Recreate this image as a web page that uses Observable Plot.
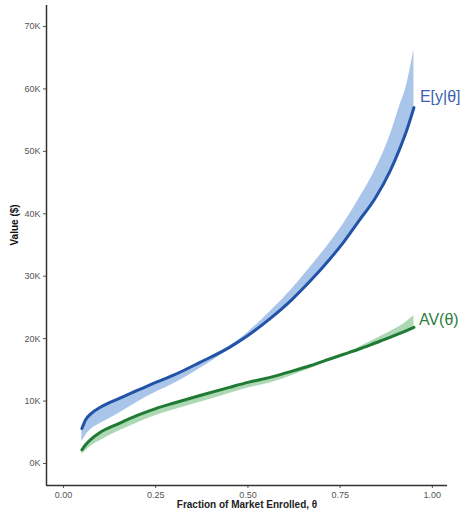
<!DOCTYPE html>
<html><head><meta charset="utf-8">
<script src="https://cdn.jsdelivr.net/npm/d3@7"></script>
<script src="https://cdn.jsdelivr.net/npm/@observablehq/plot@0.6"></script>
<style>body{margin:0;background:#fff;font-family:"Liberation Sans",Arial,sans-serif}</style>
</head><body><div id="chart"></div>
<script>
// Fraction of market enrolled
const theta  = [0.05, 0.06, 0.075, 0.10, 0.15, 0.20, 0.25, 0.30, 0.37, 0.45, 0.50, 0.56, 0.62, 0.67, 0.72, 0.76, 0.80, 0.845, 0.885, 0.91, 0.93, 0.95];
// E[y|theta] (thousands $)
const eyLine = [5.6, 7.0, 8.0, 9.0, 10.4, 11.7, 13.0, 14.2, 16.2, 18.6, 20.5, 23.2, 26.3, 29.3, 32.6, 35.5, 38.8, 42.5, 46.8, 50.2, 53.3, 57.0];
const eyLow  = [3.5, 4.5, 5.5, 6.4, 8.0, 9.8, 11.4, 12.8, 15.2, 18.3, 20.5, 23.2, 26.3, 29.3, 32.6, 35.5, 38.8, 42.5, 46.8, 50.2, 53.3, 57.0];
const eyHigh = [5.6, 7.0, 8.0, 9.0, 10.4, 11.7, 13.0, 14.2, 16.2, 18.8, 21.0, 24.3, 28.0, 31.5, 35.2, 38.5, 42.3, 47.0, 52.5, 57.0, 60.5, 66.3];
// AV(theta) (thousands $)
const avLine = [2.2, 3.0, 3.9, 5.0, 6.4, 7.7, 8.8, 9.7, 10.9, 12.2, 13.0, 13.8, 14.8, 15.7, 16.7, 17.5, 18.3, 19.3, 20.2, 20.8, 21.3, 21.8];
const avLow  = [1.5, 2.0, 2.8, 3.7, 5.2, 6.5, 7.7, 8.6, 9.8, 11.2, 12.1, 12.9, 14.1, 15.2, 16.4, 17.3, 18.3, 19.3, 20.2, 20.8, 21.3, 21.8];
const avHigh = [2.2, 3.0, 3.9, 5.0, 6.4, 7.7, 8.8, 9.7, 10.9, 12.2, 13.0, 13.8, 14.8, 15.7, 16.7, 17.5, 18.6, 19.9, 21.1, 21.9, 22.7, 23.7];

const xTicks = [0, 0.25, 0.5, 0.75, 1];
const yTicks = [0, 10000, 20000, 30000, 40000, 50000, 60000, 70000];
const xDomain = [-0.046, 1.041];
const yDomain = [-3520, 73360];
const eyLabel = "E[y|θ]";
const avLabel = "AV(θ)";
const xTitle = "Fraction of Market Enrolled, θ";
const yTitle = "Value ($)";

const ey = theta.map((t, i) => ({theta: t, line: eyLine[i] * 1000, low: eyLow[i] * 1000, high: eyHigh[i] * 1000}));
const av = theta.map((t, i) => ({theta: t, line: avLine[i] * 1000, low: avLow[i] * 1000, high: avHigh[i] * 1000}));

const chart = Plot.plot({
  width: 467, height: 518,
  marginLeft: 46, marginRight: 20, marginTop: 5, marginBottom: 33,
  style: {fontFamily: "'Liberation Sans', Arial, sans-serif", fontSize: "9px", color: "#555", background: "#fff"},
  x: {domain: xDomain, ticks: xTicks, tickFormat: d3.format(".2f"), tickSize: 3, tickPadding: 3, label: null},
  y: {domain: yDomain, ticks: yTicks, tickFormat: d => d / 1000 + "K", tickSize: 3, tickPadding: 3, label: null},
  marks: [
    Plot.areaY(ey, {x: "theta", y1: "low", y2: "high", fill: "#a9c5ea", curve: "monotone-x"}),
    Plot.areaY(av, {x: "theta", y1: "low", y2: "high", fill: "#acd8b4", curve: "monotone-x"}),
    Plot.lineY(ey, {x: "theta", y: "line", stroke: "#2253a7", strokeWidth: 3, curve: "monotone-x"}),
    Plot.lineY(av, {x: "theta", y: "line", stroke: "#1f7a34", strokeWidth: 3, curve: "monotone-x"}),
    Plot.ruleX([xDomain[0]], {stroke: "#333", strokeWidth: 1.5}),
    Plot.ruleY([yDomain[0]], {stroke: "#333", strokeWidth: 1.5}),
    Plot.text([ey[ey.length - 1]], {x: "theta", y: "line", text: () => eyLabel, textAnchor: "start", dx: 6, dy: -11, fill: "#3b62b0", fontSize: 16}),
    Plot.text([av[av.length - 1]], {x: "theta", y: "line", text: () => avLabel, textAnchor: "start", dx: 5, dy: -8, fill: "#2e7d3e", fontSize: 16}),
    Plot.text([yTitle], {frameAnchor: "left", rotate: -90, dx: -32, fill: "#111", fontWeight: "bold", fontSize: 10}),
    Plot.text([xTitle], {frameAnchor: "bottom", dy: 22, fill: "#222", fontWeight: "bold", fontSize: 10})
  ]
});
document.getElementById("chart").appendChild(chart);
</script>
</body></html>
